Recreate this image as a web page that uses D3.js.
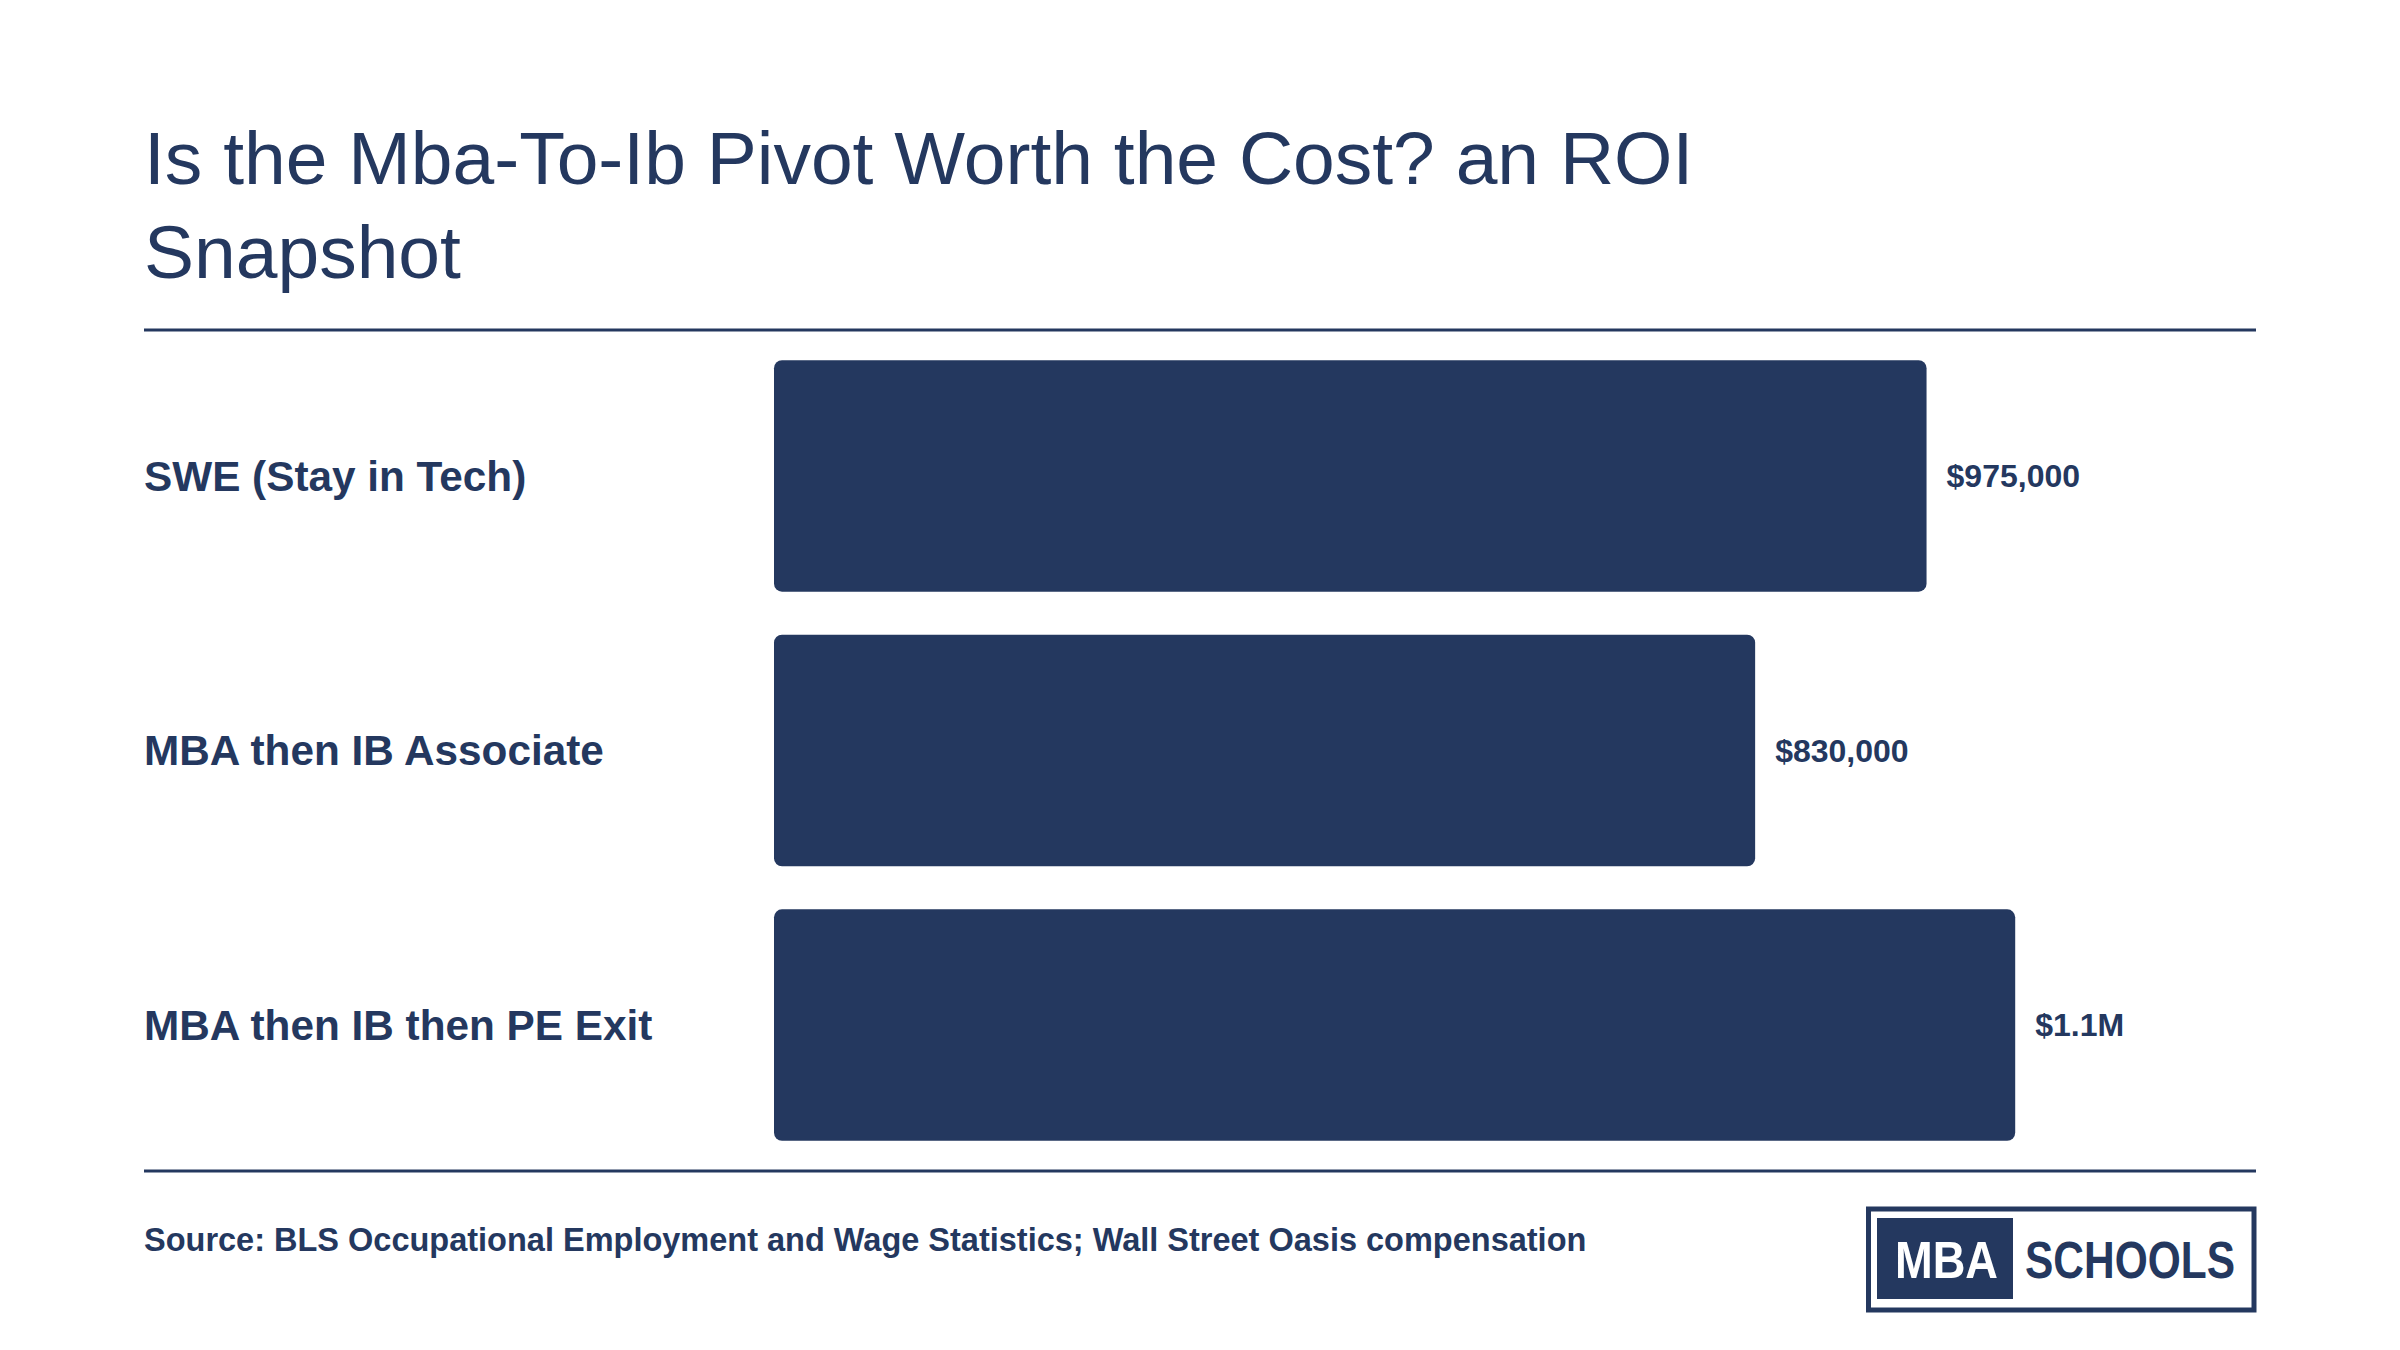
<!DOCTYPE html>
<html>
<head>
<meta charset="utf-8">
<script src="https://cdn.jsdelivr.net/npm/d3@7"></script>
<style>
  html, body { margin: 0; padding: 0; background: #ffffff; }
  svg { display: block; font-family: "Liberation Sans", Arial, Helvetica, sans-serif; }
</style>
</head>
<body>
<div id="chart"></div>
<script>
// ROI snapshot bar chart
const categories = ["SWE (Stay in Tech)", "MBA then IB Associate", "MBA then IB then PE Exit"];
const values = [975000, 830000, 1050000];
const valueLabels = ["$975,000", "$830,000", "$1.1M"];
const titleLines = ["Is the Mba-To-Ib Pivot Worth the Cost? an ROI", "Snapshot"];
const sourceText = "Source: BLS Occupational Employment and Wage Statistics; Wall Street Oasis compensation";

(function() {
  const width = 2400, height = 1350;
  const navy = "#24385f";
  const left = 144, right = 2256;

  const svg = d3.select("#chart")
    .append("svg")
    .attr("width", width)
    .attr("height", height);

  svg.append("rect")
    .attr("width", width)
    .attr("height", height)
    .attr("fill", "#ffffff");

  // title
  const title = svg.append("text")
    .attr("x", left)
    .attr("y", 184)
    .attr("fill", navy)
    .style("font-size", "75px");
  titleLines.forEach((t, i) => {
    title.append("tspan")
      .attr("x", left)
      .attr("dy", i === 0 ? 0 : 94)
      .text(t);
  });

  // rules above and below the bars
  [330, 1171].forEach(y => {
    svg.append("line")
      .attr("x1", left).attr("x2", right)
      .attr("y1", y).attr("y2", y)
      .attr("stroke", navy)
      .attr("stroke-width", 3);
  });

  const yScale = d3.scaleBand()
    .domain(categories)
    .range([330, 1171])
    .paddingInner(0.157)
    .paddingOuter(0.11);

  const xScale = d3.scaleLinear()
    .domain([0, d3.max(values) * 1.194])
    .range([774, right]);

  const rows = categories.map((c, i) => ({ category: c, value: values[i], label: valueLabels[i] }));

  svg.selectAll(".bar")
    .data(rows)
    .join("rect")
    .attr("class", "bar")
    .attr("x", xScale(0))
    .attr("y", d => yScale(d.category))
    .attr("width", d => xScale(d.value) - xScale(0))
    .attr("height", yScale.bandwidth())
    .attr("rx", 8)
    .attr("fill", navy);

  svg.selectAll(".cat-label")
    .data(rows)
    .join("text")
    .attr("class", "cat-label")
    .attr("x", left)
    .attr("y", d => yScale(d.category) + yScale.bandwidth() / 2)
    .attr("dy", "0.35em")
    .attr("fill", navy)
    .style("font-size", "42.3px")
    .style("font-weight", "bold")
    .text(d => d.category);

  svg.selectAll(".val-label")
    .data(rows)
    .join("text")
    .attr("class", "val-label")
    .attr("x", d => xScale(d.value) + 20)
    .attr("y", d => yScale(d.category) + yScale.bandwidth() / 2)
    .attr("dy", "0.35em")
    .attr("fill", navy)
    .style("font-size", "32px")
    .style("font-weight", "bold")
    .text(d => d.label);

  // source note
  svg.append("text")
    .attr("x", left)
    .attr("y", 1251)
    .attr("fill", navy)
    .style("font-size", "32.5px")
    .style("font-weight", "bold")
    .text(sourceText);

  // logo
  const logo = svg.append("g");
  logo.append("rect")
    .attr("x", 1868.5).attr("y", 1209)
    .attr("width", 385.5).attr("height", 101)
    .attr("fill", "none")
    .attr("stroke", navy)
    .attr("stroke-width", 5);
  logo.append("rect")
    .attr("x", 1877).attr("y", 1218)
    .attr("width", 136).attr("height", 81)
    .attr("fill", navy);
  logo.append("text")
    .attr("x", 1895).attr("y", 1278)
    .attr("fill", "#ffffff")
    .attr("textLength", 103)
    .attr("lengthAdjust", "spacingAndGlyphs")
    .style("font-size", "52px")
    .style("font-weight", "bold")
    .text("MBA");
  logo.append("text")
    .attr("x", 2025).attr("y", 1278)
    .attr("fill", navy)
    .attr("textLength", 210)
    .attr("lengthAdjust", "spacingAndGlyphs")
    .style("font-size", "52px")
    .style("font-weight", "bold")
    .text("SCHOOLS");
})();
</script>
</body>
</html>
